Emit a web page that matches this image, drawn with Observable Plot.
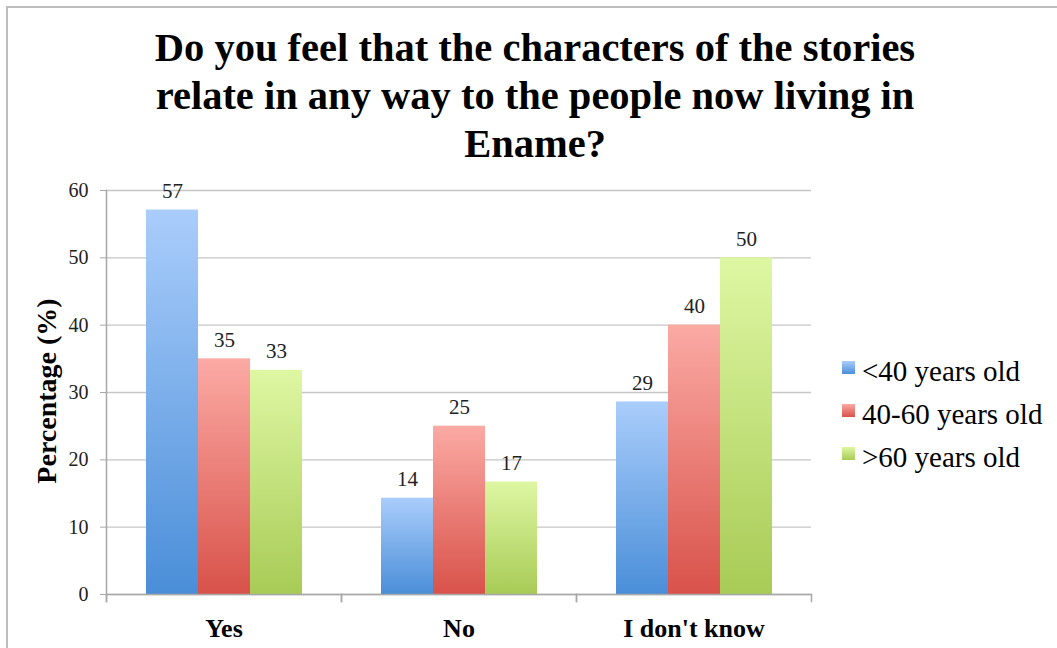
<!DOCTYPE html>
<html><head><meta charset="utf-8">
<script src="https://cdn.jsdelivr.net/npm/d3@7"></script>
<script src="https://cdn.jsdelivr.net/npm/@observablehq/plot@0.6"></script>
<style>
body{margin:0;background:#fff;}
#wrap{position:relative;width:1057px;height:648px;overflow:hidden;font-family:"Liberation Serif","Times New Roman",serif;background:#fff;}
#border{position:absolute;left:6px;top:6px;width:1200px;height:800px;border-left:2px solid #bdbdbd;border-top:2px solid #bdbdbd;box-sizing:border-box;}
#chart{position:absolute;left:0;top:0;}
#title{position:absolute;left:0;width:1070px;top:24px;text-align:center;font-weight:bold;font-size:40.5px;line-height:48px;color:#000;}
#ylabel{position:absolute;left:47px;top:391px;transform:translate(-50%,-50%) rotate(-90deg);font-weight:bold;font-size:28px;white-space:nowrap;color:#000;}
#legend{position:absolute;left:842px;top:350px;}
.li{position:relative;height:43px;font-size:29px;line-height:43px;white-space:nowrap;color:#000;}
.sw{position:absolute;left:0;top:11px;width:13px;height:13px;}
.lt{position:absolute;left:20px;top:0;}
</style>
</head><body>
<svg width="0" height="0" style="position:absolute">
<defs>
<linearGradient id="gBlue" x1="0" y1="0" x2="0" y2="1"><stop offset="0" stop-color="#aacdfb"/><stop offset="1" stop-color="#4a8ed8"/></linearGradient>
<linearGradient id="gRed" x1="0" y1="0" x2="0" y2="1"><stop offset="0" stop-color="#fbaaa4"/><stop offset="1" stop-color="#d8524a"/></linearGradient>
<linearGradient id="gGreen" x1="0" y1="0" x2="0" y2="1"><stop offset="0" stop-color="#def7a3"/><stop offset="1" stop-color="#a8cb56"/></linearGradient>
</defs>
</svg>
<div id="wrap">
<div id="border"></div>
<div id="chart"></div>
<div id="title">Do you feel that the characters of the stories<br>relate in any way to the people now living in<br>Ename?</div>
<div id="ylabel">Percentage (%)</div>
<div id="legend"></div>
</div>
<script>
const categories = ["Yes", "No", "I don't know"];
const series = ["<40 years old", "40-60 years old", ">60 years old"];
const under40 = [57.1, 14.3, 28.6];
const age40to60 = [35, 25, 40];
const over60 = [33.3, 16.7, 50];
const yTicks = [0, 10, 20, 30, 40, 50, 60];
const fills = ["url(#gBlue)", "url(#gRed)", "url(#gGreen)"];

const valuesBySeries = [under40, age40to60, over60];
const rows = [];
categories.forEach((c, ci) => {
  series.forEach((s, si) => {
    rows.push({category: c, series: s, value: valuesBySeries[si][ci]});
  });
});

const font = '"Liberation Serif","Times New Roman",serif';
const plotH = 648 - 190 - 54;

const chart = Plot.plot({
  width: 1057,
  height: 648,
  marginTop: 190,
  marginBottom: 54,
  marginLeft: 106,
  marginRight: 246,
  style: {fontFamily: font, background: "transparent"},
  fx: {domain: categories, paddingInner: 0, paddingOuter: 0, label: null},
  x: {domain: series, paddingInner: 0, paddingOuter: 0.75, axis: null},
  y: {domain: [0, 60], label: null},
  color: {domain: series, range: fills},
  marks: [
    Plot.gridY(yTicks, {stroke: "#c6c6c6", strokeOpacity: 1, strokeWidth: 1.3}),
    Plot.barY(rows, {fx: "category", x: "series", y: "value", fill: "series"}),
    Plot.ruleY([0], {stroke: "#a8a8a8", strokeWidth: 1.5}),
    Plot.frame({anchor: "left", facetAnchor: "left", stroke: "#a8a8a8", strokeWidth: 1.5, insetBottom: -7}),
    Plot.frame({anchor: "left", stroke: "#a8a8a8", strokeWidth: 1.5, insetTop: plotH, insetBottom: -7}),
    Plot.frame({anchor: "right", stroke: "#a8a8a8", strokeWidth: 1.5, insetTop: plotH, insetBottom: -7}),
    Plot.axisY(yTicks, {tickSize: 6, tickPadding: 12, fontSize: 20, stroke: "#a8a8a8", fill: "#222", label: null, tickFormat: d => d}),
    Plot.axisFx({anchor: "bottom", tickSize: 0, tickPadding: 24, fontSize: 26, fontWeight: "bold", fill: "#000", label: null}),
    Plot.text(rows, {fx: "category", x: "series", y: "value", text: d => String(Math.round(d.value)), lineAnchor: "bottom", dy: -12, fontSize: 21, fill: "#222"})
  ]
});
document.getElementById("chart").appendChild(chart);

const legend = document.getElementById("legend");
series.forEach((s, i) => {
  const row = document.createElement("div");
  row.className = "li";
  const sw = document.createElementNS("http://www.w3.org/2000/svg", "svg");
  sw.setAttribute("class", "sw");
  sw.setAttribute("width", "13"); sw.setAttribute("height", "13");
  const r = document.createElementNS("http://www.w3.org/2000/svg", "rect");
  r.setAttribute("width", "13"); r.setAttribute("height", "13");
  r.setAttribute("fill", fills[i]);
  sw.appendChild(r);
  const t = document.createElement("span");
  t.className = "lt";
  t.textContent = s;
  row.appendChild(sw); row.appendChild(t);
  legend.appendChild(row);
});
</script>
</body></html>
